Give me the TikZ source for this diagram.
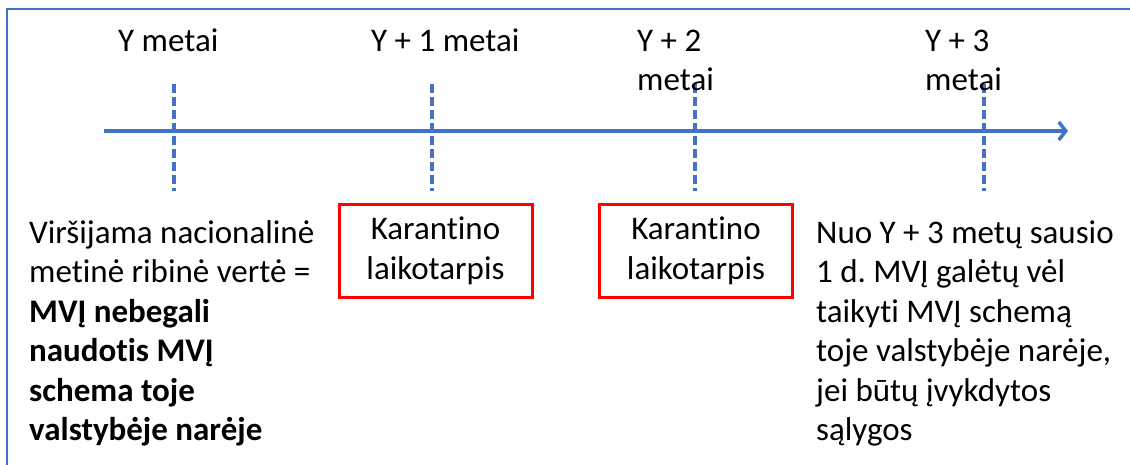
\documentclass[tikz,border=0pt]{standalone}
\usepackage{fontspec}
\setmainfont{Carlito}[Ligatures=NoCommon,Contextuals=NoAlternate]
\usetikzlibrary{arrows.meta}
\definecolor{axisblue}{HTML}{4472C4}
\definecolor{boxred}{HTML}{FF0000}
\frenchspacing
\begin{document}
\begin{tikzpicture}[x=1pt,y=-1pt,
  txt/.style={inner sep=0pt,font=\fontsize{33}{39.5}\selectfont,text=black},
  yearlbl/.style={txt,anchor=base west,align=left},
  tick/.style={draw=axisblue,line width=3.5pt,dash pattern=on 9pt off 4pt},
  periodbox/.style={txt,draw=boxred,line width=3pt,minimum width=193pt,minimum height=93pt,align=center,
    execute at begin node={\rule{0pt}{31pt}}},
  note/.style={txt,anchor=base west,align=left}]
  \useasboundingbox (0,0) rectangle (1130,464);
  % outer frame (only top and left edges fall inside the picture)
  \draw[axisblue,line width=1.5pt] (7,470) -- (7,9) -- (1140,9);

  % time axis
  \coordinate (axstart) at (104,131);
  \coordinate (axend) at (1068,131);
  \draw[axisblue,line width=3.5pt,-{Straight Barb[length=7pt,width=18pt]}] (axstart) -- (axend);

  % year ticks
  \foreach \n/\x in {t0/174,t1/432,t2/695,t3/984}{
    \coordinate (\n top) at (\x,84);
    \coordinate (\n bot) at (\x,191);
    \draw[tick] (\n top) -- (\n bot);
  }

  % year labels (base anchor sits on the last line)
  \node[yearlbl] (l0) at (118,51) {Y metai};
  \node[yearlbl] (l1) at (371,51) {Y + 1 metai};
  \node[yearlbl] (l2) at (637,90.5) {Y + 2\\metai};
  \node[yearlbl] (l3) at (925,90.5) {Y + 3\\metai};

  % quarantine periods
  \node[periodbox] (q1) at (435.5,251) {Karantino\\laikotarpis};
  \node[periodbox] (q2) at (696,251) {Karantino\\laikotarpis};

  % explanatory notes
  \node[note] (nleft) at (29,440.5) {Viršijama nacionalinė\\metinė ribinė vertė =\\\textbf{MVĮ nebegali}\\\textbf{naudotis MVĮ}\\\textbf{schema toje}\\\textbf{valstybėje narėje}};
  \node[note] (nright) at (816,440.5) {Nuo Y + 3 metų sausio\\1 d. MVĮ galėtų vėl\\taikyti MVĮ schemą\\toje valstybėje narėje,\\jei būtų įvykdytos\\sąlygos};
\end{tikzpicture}
\end{document}
